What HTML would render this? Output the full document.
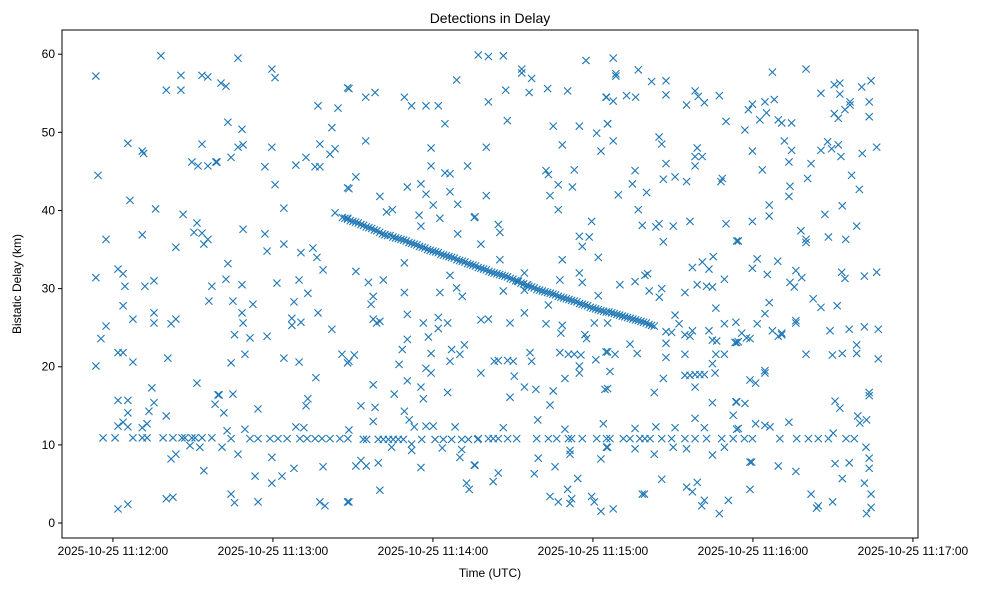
<!DOCTYPE html>
<html><head><meta charset="utf-8"><style>
html,body{margin:0;padding:0;background:#fff;}
svg{display:block;font-family:"Liberation Sans","DejaVu Sans",sans-serif;}
</style></head><body>
<svg id="chart" width="988" height="590" viewBox="0 0 988 590">
<rect x="0" y="0" width="988" height="590" fill="#fff"/>
<text x="490" y="23" text-anchor="middle" font-size="14" fill="#000">Detections in Delay</text>
<g id="marks"></g>
<rect x="62" y="30" width="856" height="508" fill="none" stroke="#000" stroke-width="1"/>
<g id="xticks"></g>
<g id="yticks"></g>
<text x="490" y="577" text-anchor="middle" font-size="12">Time (UTC)</text>
<text x="21" y="284" text-anchor="middle" font-size="12" transform="rotate(-90 21 284)">Bistatic Delay (km)</text>
</svg>
<script>
// seconds after 11:11:00 UTC
const xTickValues = [60,120,180,240,300,360];
const xTickLabels = ["2025-10-25 11:12:00","2025-10-25 11:13:00","2025-10-25 11:14:00","2025-10-25 11:15:00","2025-10-25 11:16:00","2025-10-25 11:17:00"];
const yTickValues = [0,10,20,30,40,50,60];
const yTickLabels = ["0","10","20","30","40","50","60"];
const times = [78,53.6,85.5,93.4,95.6,80,85.5,65.6,71,71.5,93.4,54.4,89.6,91.9,95.6,98.6,66.4,76,86.3,91.5,90.4,93.4,95.6,94.1,57.4,71,83.6,53.6,61.9,63.8,64.5,72,75.4,97.1,96,63.8,67.5,75.4,75.4,81.8,83.6,57.4,55.5,53.6,61.9,63.8,67.5,80.6,91.5,74.6,61.9,65.6,75.4,73.5,65.6,80,98.3,99.4,61.9,63.8,65.6,71,72.8,56.3,60.8,67.5,71,72.8,78.8,82.5,85.9,87,89.6,90.8,93.4,97.1,88.9,92.6,81.8,83.6,94.1,80,82.5,61.9,65.6,
106.9,119.6,120.8,100.5,102.4,148,136.9,144.4,103.1,108.4,142.1,106.9,108.8,119.6,137.6,141.4,143.3,99,104.3,117,128.6,132.4,135.8,137.6,120.8,148,124.1,143.3,148,108.8,117,117.8,124.1,130.5,135,136.5,138.8,103.1,102.4,108.4,121.5,129.8,133.1,105,112.5,127.9,108.4,108.8,127.1,127.1,130.5,136.9,105.6,111.4,117.8,142.1,104.3,109.5,124.1,129.8,145.9,148,136.1,99.8,105,101.6,114.4,133.1,132.4,104.3,111.4,114.4,118.9,121.9,125.3,130.1,132.8,135.8,138.4,141.4,145.1,148.1,102.8,109.5,128.6,131.6,100.9,106.9,119.6,127.9,138.8,113.3,123.4,119.6,104.3,105.6,114.4,137.6,139.5,148,
188.9,148.5,154.8,158.3,169.3,172,177.4,182,184.5,154.8,179.3,179.3,184.5,186.4,193,151.1,148.5,170.4,175.5,177.4,186.4,180.1,189.3,160.1,162.6,164.8,174.8,175.5,182.6,195.5,189.3,169.3,151.1,155.8,161.4,186.4,188.9,191,169.3,182.6,157.6,156.8,170.4,157.6,158.9,160.1,176.4,182,182,185.5,178.3,170.4,168.5,179.3,187,190.1,191.8,186.4,148.5,150.5,167.3,177.4,179.3,157.6,170.4,175.5,176.4,165.5,185.5,153,158.3,169.3,171.1,173,157.6,177.4,180.1,188.3,148.5,153.9,155.1,159.5,161.4,163.3,165.1,167,168.9,175.8,180.8,183.9,187,190.8,193.3,196.8,164.5,172,183.5,190.8,172,190.1,151.1,153,155,159.5,175.5,195.5,192.6,193.6,160.1,148.5,
197,200.8,206.4,237.4,213.3,213.3,217,207.3,216.1,223,230.5,200.8,244.9,207.9,225.1,234.9,241.4,245.5,243,200,228.5,222.4,223.3,233,232.3,227,223.9,227,200,195.8,204.5,205.1,198,239.5,234.9,238.6,236,242,205.1,228.5,214.3,211.8,215.5,214.3,227.6,234.9,236,206.4,223.3,242,214.3,198,200.8,208.9,222.4,228.5,228,237,237.6,240.5,245.5,216.4,217,203,204.5,208,210.1,227.6,230.8,233,235.5,241.1,244.9,234.9,234.9,198,210.5,229.5,214.3,218.6,225.1,208.9,223.9,244.5,219.3,206.4,229.5,243.9,197,200.8,202.6,204.5,208,211.4,218.9,223.3,226.4,230.8,232,236,241.4,245.1,231.4,231.4,245.1,219.5,225.8,243,195.8,204.5,202.6,218,234.3,223.9,227,230.5,232,231.4,239.5,240.5,243,
247.6,248.6,248.6,257,262,267.4,245.1,247.6,252.6,256,267.4,275.1,278.3,279.5,281.8,287.4,289.9,245.5,247.6,264.8,265.8,279.1,278.3,281,278.3,267.4,255.8,254.8,266.4,270.8,275.1,288.5,288,249.5,260.1,257,258.5,263.6,264.8,270.1,276.4,289.9,266.4,293.9,250.1,255.8,259.5,260.5,261.1,265.8,264.9,274.5,277.3,281,283.5,285.1,279.1,282.6,284.8,289.3,286.1,289.3,293.6,270.8,272.3,267.4,269.5,267.4,267.4,274.5,277.3,276.4,283.5,284.8,286.4,293.9,253.9,256.6,245.5,248.3,274.5,286.1,289.3,284.8,246.4,274.5,276.4,278.3,280.1,281.8,285.8,278.3,266.4,245.5,263,284.8,293.6,278.3,292.6,255.8,263.6,270.8,281.8,293.9,246.4,251.4,253.9,257.6,259.5,261.4,265.8,269.5,274.5,278.3,282.6,288.3,292.6,255.8,263,270.1,275.1,284.8,289.3,245.5,265.8,258.5,259.3,275.1,277.3,279.1,281.8,280.8,290.8,287.4,247.6,
307.3,319.9,330.5,332.6,325.5,332.6,340.8,344.3,298.3,299.8,304.5,308,302.6,305.1,309.5,310.8,314.5,297,330.5,332,334.5,336.4,336.4,343.6,343.6,311.8,314.5,313.5,325.5,328,329.5,332,333,341,346.4,299.8,303.5,321.8,320.5,337,339.9,313.9,313.5,306.1,306.1,299.8,327,333.5,318,319.9,319.9,328.3,334.8,338.9,294.5,301.6,299.8,305.4,309.3,316.1,313.9,315.5,318.3,333.3,334.5,341.8,346.4,322.6,325.5,331.6,306.1,304.5,301.6,316.1,316.1,307.3,310.8,309.5,310.8,295.8,297.6,298.9,293.3,294.5,328.9,336.1,341.8,347,319.9,329.8,333.5,338.9,338.9,347,304.5,304.5,298.9,301,330.8,332.6,343.6,343.6,297,293.9,301,304.5,306.4,313.5,339.3,340.1,342.6,294.5,330.1,296.8,299.8,310.1,316.4,320.8,324.5,328.3,334.9,338,342.4,298.9,299.5,309.5,316.1,330.8,336.1,343.6,343.6,333.5,298.9,321.8,329.9,323.9,324.5,341.8,344.3,342.6,344.3];
const delays = [59.8,57.2,57.3,57.3,57.1,55.4,55.4,48.6,47.6,47.3,48.5,44.5,46.2,45.7,45.7,46.2,41.3,40.2,39.5,38.4,37.2,37.1,36.3,35.7,36.3,36.9,35.3,31.4,32.5,31.9,30.3,30.3,31,30.3,28.4,27.8,26.1,26.9,25.6,25.5,26.1,25.2,23.6,20.1,21.8,21.8,20.6,21.1,17.9,17.3,15.7,15.7,15.4,14.3,14.1,13.7,15.2,16.4,12.4,12.9,12.3,12.2,12.7,10.9,10.9,10.9,10.9,10.9,10.9,10.9,10.9,10.9,10.9,10.9,10.9,10.9,9.9,9.7,8.2,8.8,6.7,3.1,3.3,1.8,2.4,
59.5,58.1,57,56.3,55.9,55.7,53.4,53.1,51.3,50.4,50.6,48.1,48.4,48.1,48.5,47.2,47.9,46.2,46.8,45.6,45.8,46.8,45.6,45.6,43.3,42.9,40.3,39.7,39,37.6,37,34.8,35.7,34.6,35.2,34,32.4,33.2,31.2,30.5,30.7,31.1,29.4,28.4,28,28.3,26.9,25.6,26.2,25.3,25.7,26.9,24.1,23.7,23.9,24.8,20.5,21.6,21.1,20.6,21.6,20.5,18.6,16.4,16.5,14.1,14.6,15.9,15,10.8,10.8,10.8,10.8,10.8,10.8,10.8,10.8,10.8,10.8,10.8,10.8,10.8,11.8,12,12.3,12.2,9.7,8.8,8.4,7,7.2,6,6,5.1,3.7,2.6,2.7,2.7,2.2,2.7,
56.7,55.6,54.5,55.1,54.5,53.4,53.4,53.4,51.1,48.9,48,45.7,44.8,44.7,45.7,44.3,42.8,43,43.4,42.1,42.4,40.7,40.8,41.8,39.8,40.1,39.4,38,39,39.1,37,33.3,32.2,30.8,31.1,31.7,30.1,29,29.5,29.5,29,28,26.7,26.1,25.6,25.8,25.6,26.3,24.9,25.6,23.8,23.5,22.2,21.7,22.2,21.6,22.8,20.7,20.7,21.5,20.3,19.8,19.2,17.7,18.2,17.4,15.9,16.5,16.7,15,14.8,14.3,13.2,12.3,13,12.4,12.4,12.3,11.9,10.7,10.7,10.7,10.7,10.7,10.7,10.7,10.7,10.7,10.7,10.7,10.7,10.7,10.7,10.7,9.7,9.3,9.6,9.4,10.1,8.4,7.3,8,7.3,7.7,7.1,7.4,5.1,4.3,4.2,2.7,
59.9,59.7,59.8,59.2,58.1,57.6,56.9,55.4,55.1,55.6,55.3,53.9,54.5,51.5,50.8,50.8,49.9,51.1,47.6,48.1,48.4,45.1,44.6,45.2,43,43.3,41.9,40.1,41.9,39.2,38.2,37.2,35.7,38.6,36.7,36.6,35.4,34,33.7,33.7,32,31,30.5,29.8,31.1,32,30.8,29.7,27.9,29.1,26.9,26,26.1,25.6,25.5,25.3,24.3,24.1,23.6,25.6,25.6,21.8,20.7,20.7,20.8,20.8,20.7,21.8,21.6,21.6,21.5,20.9,21.9,20.1,19.2,19.2,18.8,18.5,17.4,17.1,16.9,16.1,15.1,17.1,13.2,12.2,12,12.7,10.8,10.8,10.8,10.8,10.8,10.8,10.8,10.8,10.8,10.8,10.8,10.8,10.8,10.8,9.3,8.8,9.7,8.3,7.2,8.2,7.4,6.4,5.3,6.3,5.7,3.4,2.7,4.3,3.1,2.5,3.4,2.7,1.5,
59.5,57.5,57.2,58,56.5,56.6,54.5,54,54.7,54.5,54.8,53.5,55.3,54.6,53.8,54.7,51.4,51.1,48.9,49.4,48.5,48,46.9,46.9,45.7,46,45.1,43.4,44,44.3,43.7,44.1,43.7,42,42.3,40.1,38.1,37.9,38.3,38,38.6,38.3,36,36.1,30.5,30.9,31.7,31.9,29.7,30,28.9,29.5,32.7,33.4,32.5,34.1,30.5,30.3,30.2,31.2,27.5,25.5,25.7,26.6,25.5,24.5,24.4,23,21.2,24.1,24.6,23.9,24.6,23.4,23.3,23.1,22.9,21.7,21.9,21.6,21.6,21.6,21.6,20.4,19.4,18.9,18.9,19,19,19,19.2,17.4,18.5,17.2,16.7,15.4,15.5,13.4,13.8,12.1,12.3,12.2,12.2,12,10.8,10.8,10.8,10.8,10.8,10.8,10.8,10.8,10.8,10.8,10.8,10.8,10.8,9.5,8.8,9.7,9.5,8.7,9.7,9.7,5.6,3.7,3.7,4.6,4,5.2,2.9,2.2,2.9,1.2,1.8,
57.7,58.1,56.1,56.3,55,54.9,55.8,56.6,52.9,53.6,53.9,54.2,51.6,52.5,51.6,51.2,51.2,50.3,52.4,51.8,52.9,53.5,53.9,53.9,52,48.9,47.7,46.2,47.7,48.8,47.9,48.4,46.9,47.3,48.1,47.6,45.2,46,44.1,44.5,42.7,43.1,41.8,40.7,39.3,38.6,39.5,40.6,37.4,36.3,35.9,36.6,36.3,38,36.1,33.8,32.6,31.8,33.5,32.3,30.8,30.2,31.4,32.1,31.3,31.6,32.1,28.7,27.6,27.8,28.2,26.8,25.5,25.9,25.6,24.6,24.3,23.9,24.1,24.3,23.7,23.6,23.1,23.2,24.6,24.8,25.1,24.8,21.6,21.5,21.7,21.7,22.8,21,19.5,19.2,18.3,17.9,15.6,14.7,16.7,16.3,15.3,15.5,12.7,12.5,12.3,12.9,13.7,12.8,13.2,12.1,11.5,10.8,10.8,10.8,10.8,10.8,10.8,10.8,10.8,10.8,9.7,7.8,7.8,7.3,6.6,7.6,7.7,8.3,7,5.7,4.3,3.7,2.7,1.9,2.2,5.1,3.7,1.2,2];
const trackTimes = [146,147,148,149,150,151,152,153,154,155,156,157,158,159,160,161,162,163,164,165,166,167,168,169,170,171,172,173,174,175,176,177,178,179,180,181,182,183,184,185,186,187,188,189,190,191,192,193,194,195,196,197,198,199,200,201,202,203,204,205,206,207,208,209,210,211,212,213,214,215,216,217,218,219,220,221,222,223,224,225,226,227,228,229,230,231,232,233,234,235,236,237,238,239,240,241,242,243,244,245,246,247,248,249,250,251,252,253,254,255,256,257,258,259,260,261,262,263];
const trackDelays = [39.1,39.0,38.9,38.7,38.6,38.5,38.4,38.2,38.1,37.9,37.8,37.7,37.5,37.4,37.2,37.0,36.9,36.8,36.8,36.6,36.5,36.4,36.3,36.2,36.1,35.9,35.8,35.7,35.6,35.4,35.3,35.2,35.0,34.9,34.8,34.7,34.6,34.4,34.3,34.2,34.1,34.0,33.9,33.7,33.6,33.5,33.4,33.2,33.1,33.0,32.9,32.7,32.6,32.5,32.4,32.2,32.1,32.0,31.9,31.8,31.7,31.6,31.5,31.3,31.2,31.0,30.9,30.7,30.6,30.4,30.3,30.2,30.1,29.9,29.8,29.7,29.6,29.5,29.4,29.3,29.2,29.0,28.9,28.8,28.7,28.6,28.5,28.4,28.3,28.1,28.0,27.9,27.8,27.6,27.5,27.4,27.3,27.2,27.1,27.0,27.0,26.9,26.8,26.7,26.6,26.5,26.4,26.3,26.2,26.1,26.0,25.9,25.8,25.7,25.6,25.4,25.3,25.2];

const NS = "http://www.w3.org/2000/svg";
const X0 = 62, X1 = 918, Y0 = 538, Y1 = 30;
const xMin = 40.9, xMax = 361.9, yMin = -1.92, yMax = 63.1;
function sx(t){ return X0 + (t - xMin) / (xMax - xMin) * (X1 - X0); }
function sy(v){ return Y0 - (v - yMin) / (yMax - yMin) * (Y0 - Y1); }

const marks = document.getElementById('marks');
function drawMarker(t, v, name){
  const x = sx(t), y = sy(v), r = 3.6;
  const p = document.createElementNS(NS, 'path');
  p.setAttribute('d', `M${x-r},${y-r}L${x+r},${y+r}M${x-r},${y+r}L${x+r},${y-r}`);
  p.setAttribute('stroke', '#1f77b4');
  p.setAttribute('stroke-width', '1.1');
  p.setAttribute('fill', 'none');
  
  
  marks.appendChild(p);
}
for (let i = 0; i < times.length; i++) drawMarker(times[i], delays[i], 'detection-marker');
for (let i = 0; i < trackTimes.length; i++) drawMarker(trackTimes[i], trackDelays[i], 'track-marker');

const xg = document.getElementById('xticks');
xTickValues.forEach((t, i) => {
  const x = sx(t);
  const l = document.createElementNS(NS, 'line');
  l.setAttribute('x1', x); l.setAttribute('x2', x); l.setAttribute('y1', Y0); l.setAttribute('y2', Y0 + 4);
  l.setAttribute('stroke', '#000');
  
  
  xg.appendChild(l);
  const tx = document.createElementNS(NS, 'text');
  tx.setAttribute('x', x); tx.setAttribute('y', Y0 + 17);
  tx.setAttribute('text-anchor', 'middle'); tx.setAttribute('font-size', '12');
  tx.textContent = xTickLabels[i];
  
  
  xg.appendChild(tx);
});
const yg = document.getElementById('yticks');
yTickValues.forEach((v, i) => {
  const y = sy(v);
  const l = document.createElementNS(NS, 'line');
  l.setAttribute('x1', X0 - 4); l.setAttribute('x2', X0); l.setAttribute('y1', y); l.setAttribute('y2', y);
  l.setAttribute('stroke', '#000');
  
  
  yg.appendChild(l);
  const tx = document.createElementNS(NS, 'text');
  tx.setAttribute('x', X0 - 7); tx.setAttribute('y', y + 4);
  tx.setAttribute('text-anchor', 'end'); tx.setAttribute('font-size', '12');
  tx.textContent = yTickLabels[i];
  
  
  yg.appendChild(tx);
});
</script>
</body></html>
